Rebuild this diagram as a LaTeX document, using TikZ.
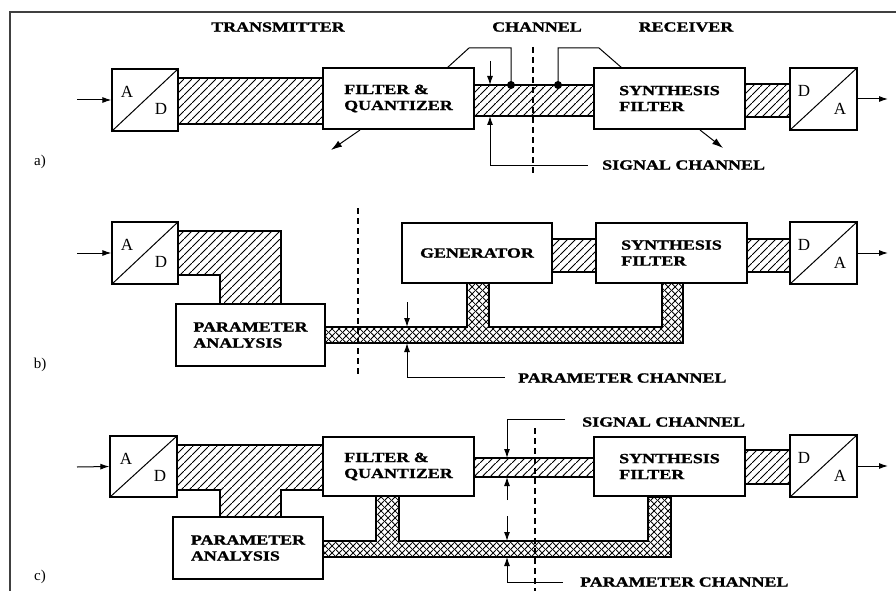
\documentclass[tikz,border=0pt]{standalone}
\usepackage{fontspec}
\setmainfont{Liberation Serif}
\newfontfamily\lblfont[FakeStretch=1.28, UprightFont=* Bold, UprightFeatures={FakeBold=1.2}]{Liberation Serif}
\usetikzlibrary{patterns.meta,arrows.meta}

\tikzdeclarepattern{
  name=diaghatch, type=uncolored,
  bounding box={(0pt,0pt) and (8pt,8pt)},
  tile size={(8pt,8pt)},
  code={
    \pgfsetlinewidth{1pt}
    \pgfpathmoveto{\pgfqpoint{-1pt}{-1pt}}\pgfpathlineto{\pgfqpoint{9pt}{9pt}}
    \pgfusepath{stroke}
  }
}
\tikzdeclarepattern{
  name=xhatch, type=uncolored,
  bounding box={(0pt,0pt) and (7pt,7pt)},
  tile size={(7pt,7pt)},
  code={
    \pgfsetlinewidth{0.9pt}
    \pgfpathmoveto{\pgfqpoint{-1pt}{-1pt}}\pgfpathlineto{\pgfqpoint{8pt}{8pt}}
    \pgfpathmoveto{\pgfqpoint{-1pt}{8pt}}\pgfpathlineto{\pgfqpoint{8pt}{-1pt}}
    \pgfusepath{stroke}
  }
}

\tikzset{
  box/.style={draw, line width=1.3pt, fill=white, inner sep=0pt, align=left,
    font=\fontsize{14}{16}\selectfont\lblfont},
  adbox/.style={draw, line width=1.3pt, fill=white, inner sep=0pt,
    minimum width=66pt, minimum height=62pt},
  letter/.style={inner sep=0pt, font=\fontsize{17}{17}\selectfont},
  lbl/.style={inner sep=0pt, font=\fontsize{14}{16}\selectfont\lblfont},
  panel/.style={inner sep=0pt, font=\fontsize{15}{16}\selectfont},
  hband/.style={draw, line width=1.1pt, pattern=diaghatch},
  xband/.style={draw, line width=1.1pt, pattern=xhatch},
  arr/.style={line width=1pt, -{Latex[length=9pt,width=6pt]}},
  bigarr/.style={line width=1pt, -{Latex[length=11pt,width=7pt]}},
  thin/.style={line width=1pt},
  cut/.style={line width=1.1pt, dash pattern=on 6pt off 4pt},
  dot/.style={circle, fill, inner sep=0pt, minimum size=8pt}
}

\begin{document}
\begin{tikzpicture}[x=1pt,y=-1pt]
\useasboundingbox (0,0) rectangle (896,591);
\fill[white] (0,0) rectangle (896,591);
% frame
\draw[line width=1.3pt, black!75] (896,12) -- (10,12) -- (10,591);

% ================= panel a =================
\node[lbl] (tTX) at (278,27) {TRANSMITTER};
\node[lbl] (tCH) at (537,27) {CHANNEL};
\node[lbl] (tRX) at (686,27) {RECEIVER};
\node[panel] (pa) at (40,162) {a)};

\draw[hband] (178,78) rectangle (325,124);
\draw[hband] (474,85) rectangle (594,116);
\draw[hband] (745,84) rectangle (790,117);

\node[adbox] (ADa) at (145,100) {};
\draw[thin] (ADa.south west) -- (ADa.north east);
\node[letter] (ADaA) at (127,92) {A};
\node[letter] (ADaD) at (161,109) {D};
\node[box, minimum width=151pt, minimum height=61pt] (Fa) at (398.5,98.5) {FILTER \&\\QUANTIZER};
\node[box, minimum width=151pt, minimum height=61pt] (Sa) at (669.5,98.5) {SYNTHESIS\\FILTER};
\node[adbox, minimum width=67pt] (DAa) at (823.5,99) {};
\draw[thin] (DAa.south west) -- (DAa.north east);
\node[letter] (DAaD) at (804,91) {D};
\node[letter] (DAaA) at (840,109) {A};

\coordinate (ina) at (77,100);
\coordinate (outa) at (888,99);
\draw[arr] (ina) -- (ADa.west);
\draw[arr] (DAa.east) -- (outa);

% taps
\coordinate (tapF) at (447,68);
\coordinate (tapS) at (622,68);
\node[dot] (dota) at (511,85) {};
\node[dot] (dotb) at (558,85) {};
\draw[thin] (tapF) -- (469,48) -- (511,48) -- (dota.center);
\draw[thin] (dotb.center) -- (558,48) -- (599,48) -- (tapS);

% diagonal arrows
\coordinate (fqo) at (331,150);
\coordinate (sfo) at (723,148);
\draw[bigarr] (360,130) -- (fqo);
\draw[bigarr] (700,130) -- (sfo);

% dimension arrows
\coordinate (a1) at (490,61);
\coordinate (a1e) at (490,85);
\coordinate (a2) at (490,165);
\coordinate (a2e) at (490,116);
\draw[arr] (a1) -- (a1e);
\draw[arr] (a2) -- (a2e);
\node[lbl, anchor=west] (sca) at (602,165) {SIGNAL CHANNEL};
\draw[thin] (a2) -- (588,165);
\draw[cut] (533,47) -- (533,175);

% ================= panel b =================
\node[panel] (pb) at (40,365) {b)};
\draw[hband] (178,231) -- (281,231) -- (281,304) -- (220,304) -- (220,275) -- (178,275) -- cycle;
\draw[hband] (552,239) rectangle (596,272);
\draw[hband] (747,239) rectangle (790,272);
\draw[xband] (325,327) -- (467,327) -- (467,283) -- (489,283) -- (489,327) -- (662,327) -- (662,283)
  -- (683,283) -- (683,343) -- (325,343) -- cycle;

\node[adbox] (ADb) at (145,253) {};
\draw[thin] (ADb.south west) -- (ADb.north east);
\node[letter] (ADbA) at (127,245) {A};
\node[letter] (ADbD) at (161,262) {D};
\node[box, minimum width=149pt, minimum height=62pt] (PAb) at (250.5,335) {PARAMETER\\ANALYSIS};
\node[box, minimum width=150pt, minimum height=60pt] (Gb) at (477,253) {GENERATOR};
\node[box, minimum width=151pt, minimum height=60pt] (Sb) at (671.5,253) {SYNTHESIS\\FILTER};
\node[adbox, minimum width=67pt] (DAb) at (823.5,253) {};
\draw[thin] (DAb.south west) -- (DAb.north east);
\node[letter] (DAbD) at (804,245) {D};
\node[letter] (DAbA) at (840,263) {A};

\coordinate (inb) at (77,253);
\coordinate (outb) at (888,253);
\draw[arr] (inb) -- (ADb.west);
\draw[arr] (DAb.east) -- (outb);

\draw[cut] (358,208) -- (358,377);
\coordinate (b1) at (407,302);
\coordinate (b1e) at (407,327);
\coordinate (b2) at (407,377);
\coordinate (b2e) at (407,343);
\draw[arr] (b1) -- (b1e);
\draw[arr] (b2) -- (b2e);
\node[lbl, anchor=west] (pcb) at (518,378) {PARAMETER CHANNEL};
\draw[thin] (b2) -- (505,377);

% ================= panel c =================
\node[panel] (pc) at (40,577) {c)};
\draw[hband] (177,445) -- (325,445) -- (325,490) -- (281,490) -- (281,517) -- (220,517) -- (220,490) -- (177,490) -- cycle;
\draw[hband] (474,458) rectangle (594,477);
\draw[hband] (745,450) rectangle (790,484);
\draw[xband] (323,541) -- (376,541) -- (376,496) -- (399,496) -- (399,541) -- (648,541) -- (648,497)
  -- (671,497) -- (671,557) -- (323,557) -- cycle;

\node[adbox, minimum width=67pt, minimum height=61pt] (ADc) at (143.5,466.5) {};
\draw[thin] (ADc.south west) -- (ADc.north east);
\node[letter] (ADcA) at (126,459) {A};
\node[letter] (ADcD) at (160,476) {D};
\node[box, minimum width=151pt, minimum height=59pt] (Fc) at (398.5,466.5) {FILTER \&\\QUANTIZER};
\node[box, minimum width=150pt, minimum height=62pt] (PAc) at (248,548) {PARAMETER\\ANALYSIS};
\node[box, minimum width=151pt, minimum height=59pt] (Sc) at (669.5,466.5) {SYNTHESIS\\FILTER};
\node[adbox, minimum width=67pt] (DAc) at (823.5,466) {};
\draw[thin] (DAc.south west) -- (DAc.north east);
\node[letter] (DAcD) at (804,458) {D};
\node[letter] (DAcA) at (840,476) {A};

\coordinate (inc) at (77,467);
\coordinate (outc) at (888,466);
\draw[arr] (inc) -- (ADc.west);
\draw[arr] (DAc.east) -- (outc);

\draw[cut] (535,428) -- (535,591);
\coordinate (c1) at (507,419);
\coordinate (c1e) at (507,458);
\coordinate (c2) at (507,500);
\coordinate (c2e) at (507,477);
\coordinate (c3) at (507,516);
\coordinate (c3e) at (507,541);
\coordinate (c4) at (507,582);
\coordinate (c4e) at (507,557);
\draw[thin] (565,419) -- (c1);
\draw[arr] (c1) -- (c1e);
\draw[arr] (c2) -- (c2e);
\draw[arr] (c3) -- (c3e);
\draw[arr] (c4) -- (c4e);
\draw[thin] (c4) -- (563,582);
\node[lbl, anchor=west] (scc) at (582,422) {SIGNAL CHANNEL};
\node[lbl, anchor=west] (pcc) at (580,582) {PARAMETER CHANNEL};
\end{tikzpicture}
\end{document}
